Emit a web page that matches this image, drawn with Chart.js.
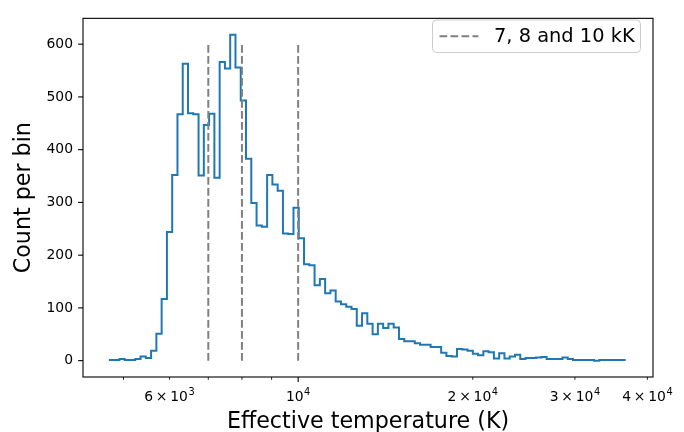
<!DOCTYPE html>
<html>
<head>
<meta charset="utf-8">
<script src="https://cdn.jsdelivr.net/npm/chart.js@4.4.1/dist/chart.umd.min.js"></script>
<style>
  html, body { margin: 0; padding: 0; background: #fff; }
  #wrap { width: 684px; height: 432px; }
</style>
</head>
<body>
<div id="wrap"><canvas id="chart" width="684" height="432"></canvas></div>
<script>
// histogram: log-spaced bins between the lowest and highest temperature
const T_MIN = 4718;
const T_MAX = 36706;
const N_BINS = 98;

// counts per bin (left to right)
const counts = [
  1, 1, 3, 1, 1, 3, 8, 5, 19, 51,
  117, 244, 352, 467, 563, 469, 467, 351, 447, 468,
  347, 566, 554, 618, 556, 493, 383, 299, 256, 254,
  352, 334, 322, 241, 240, 290, 232, 183, 181, 143,
  155, 128, 133, 112, 107, 102, 98, 66, 90, 70,
  50, 70, 62, 70, 63, 41, 37, 37, 33, 30,
  30, 26, 26, 15, 9, 8, 22, 21, 19, 13,
  10, 18, 16, 4, 14, 4, 8, 11, 3, 5,
  5, 6, 7, 3, 3, 3, 6, 3, 1, 1,
  1, 1, 0, 1, 1, 1, 1, 1
];

// reference temperatures (dashed lines)
const refTemps = [7000, 8000, 10000];
const refTop = 600;
const refLabel = "7, 8 and 10 kK";

// axes: tick values, labels as [mantissa part, exponent]
const xTicks = [5000, 6000, 7000, 8000, 9000, 10000, 20000, 30000, 40000];
const xTickLabels = {
  6000: ["6\u2009\u00d7\u200910", "3"],
  10000: ["10", "4"],
  20000: ["2\u2009\u00d7\u200910", "4"],
  30000: ["3\u2009\u00d7\u200910", "4"],
  40000: ["4\u2009\u00d7\u200910", "4"]
};
const yTicks = [0, 100, 200, 300, 400, 500, 600];

const FONT = "DejaVu Sans";
const BLUE = "#1f77b4";
const GREY = "#808080";
const DASH = [7.7, 3.3];

// bin edges -> step points
const lo = Math.log10(T_MIN), hi = Math.log10(T_MAX);
const edges = [];
for (let i = 0; i <= N_BINS; i++) edges.push(Math.pow(10, lo + (hi - lo) * i / N_BINS));
const histPoints = counts.map((c, i) => ({ x: edges[i], y: c }));
histPoints.push({ x: edges[N_BINS], y: counts[N_BINS - 1] });

const refSets = refTemps.map(t => ({
  label: refLabel,
  data: [{ x: t, y: 0 }, { x: t, y: refTop }],
  borderColor: GREY,
  borderWidth: 2,
  borderDash: DASH,
  pointRadius: 0,
  fill: false,
  order: 0
}));

// frame, tick marks, x labels with exponents and matplotlib-like legend
const framePlugin = {
  id: "frame",
  afterDraw(chart) {
    const { ctx, chartArea: a, scales } = chart;
    ctx.save();
    ctx.strokeStyle = "#000";
    ctx.lineWidth = 1.1;
    yTicks.forEach(v => {
      const y = scales.y.getPixelForValue(v);
      ctx.beginPath(); ctx.moveTo(a.left - 4.9, y); ctx.lineTo(a.left, y); ctx.stroke();
    });
    xTicks.forEach(v => {
      const x = scales.x.getPixelForValue(v);
      const major = v === 10000;
      ctx.lineWidth = major ? 1.1 : 0.85;
      ctx.beginPath(); ctx.moveTo(x, a.bottom); ctx.lineTo(x, a.bottom + (major ? 4.9 : 2.8)); ctx.stroke();
    });
    ctx.lineWidth = 1.1;
    ctx.strokeRect(a.left, a.top, a.right - a.left, a.bottom - a.top);

    // x tick labels
    ctx.fillStyle = "#000";
    ctx.textBaseline = "alphabetic";
    ctx.textAlign = "left";
    const baseFont = "13.9px '" + FONT + "'", supFont = "9.8px '" + FONT + "'";
    Object.keys(xTickLabels).forEach(k => {
      const [base, sup] = xTickLabels[k];
      const x = scales.x.getPixelForValue(Number(k));
      ctx.font = baseFont;
      const wb = ctx.measureText(base).width;
      ctx.font = supFont;
      const ws = ctx.measureText(sup).width;
      const x0 = x - (wb + ws + 0.5) / 2;
      ctx.font = baseFont;
      ctx.fillText(base, x0, a.bottom + 24);
      ctx.font = supFont;
      ctx.fillText(sup, x0 + wb + 0.5, a.bottom + 17.5);
    });

    // legend box
    const bx = 432.5, by = 20, bw = 208, bh = 32.5, r = 4;
    ctx.beginPath();
    ctx.roundRect(bx, by, bw, bh, r);
    ctx.fillStyle = "rgba(255,255,255,0.8)";
    ctx.fill();
    ctx.strokeStyle = "#cccccc";
    ctx.lineWidth = 1;
    ctx.stroke();
    const ly = by + bh / 2;
    ctx.beginPath();
    ctx.setLineDash(DASH);
    ctx.strokeStyle = GREY;
    ctx.lineWidth = 2;
    ctx.moveTo(bx + 7, ly); ctx.lineTo(bx + 46, ly);
    ctx.stroke();
    ctx.setLineDash([]);
    ctx.fillStyle = "#000";
    ctx.font = "19.4px '" + FONT + "'";
    ctx.textBaseline = "middle";
    ctx.fillText(refLabel, bx + 61.5, ly + 1);
    ctx.restore();
  }
};

new Chart(document.getElementById("chart"), {
  type: "line",
  data: {
    datasets: [{
      label: "counts",
      data: histPoints,
      stepped: "before",
      borderColor: BLUE,
      borderWidth: 2,
      pointRadius: 0,
      fill: false,
      order: 1
    }, ...refSets]
  },
  options: {
    responsive: false,
    animation: false,
    layout: { padding: { top: 10, right: 31, bottom: 0, left: 0 } },
    plugins: { legend: { display: false }, tooltip: { enabled: false } },
    scales: {
      x: {
        type: "logarithmic",
        min: 4257,
        max: 40900,
        afterBuildTicks: s => { s.ticks = xTicks.map(v => ({ value: v })); },
        afterFit: s => { s.height = 55; },
        grid: { display: false, drawTicks: false },
        border: { display: false },
        ticks: { autoSkip: false, maxRotation: 0, callback: () => "" },
        title: {
          display: true,
          text: "Effective temperature (K)",
          color: "#000",
          font: { family: FONT, size: 22.2 },
          padding: { top: 0, bottom: -4 }
        }
      },
      y: {
        type: "linear",
        min: -31,
        max: 649,
        afterBuildTicks: s => { s.ticks = yTicks.map(v => ({ value: v })); },
        afterFit: s => { s.width = 83; },
        grid: { display: false, drawTicks: false },
        border: { display: false },
        ticks: {
          padding: 10,
          color: "#000",
          font: { family: FONT, size: 13.9 }
        },
        title: {
          display: true,
          text: "Count per bin",
          color: "#000",
          font: { family: FONT, size: 22.2 },
          padding: { top: 11, bottom: 0 }
        }
      }
    }
  },
  plugins: [framePlugin]
});
</script>
</body>
</html>
